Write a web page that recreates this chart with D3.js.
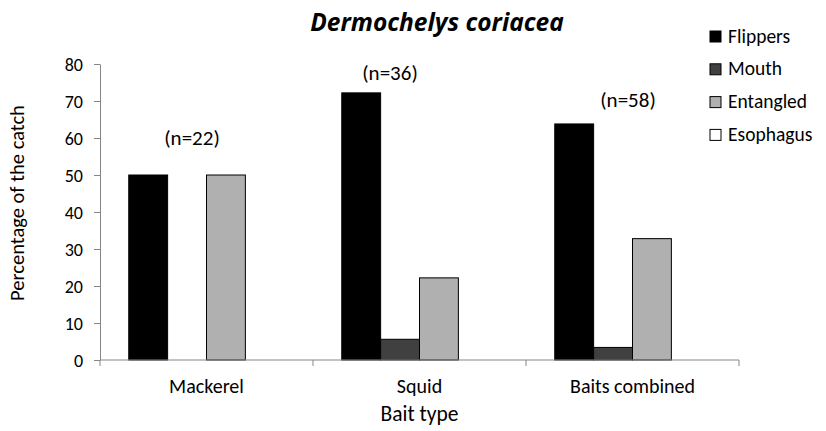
<!DOCTYPE html>
<html>
<head>
<meta charset="utf-8">
<script src="https://cdn.jsdelivr.net/npm/d3@7"></script>
<style>
  body { margin: 0; background: #fff; }
  svg text { font-family: Carlito, Lato, "Open Sans", sans-serif; fill: #000; }
  .axis path, .axis line { stroke: #868686; }
</style>
</head>
<body>
<svg id="chart" width="826" height="431"></svg>
<script>
// chart data
var baits   = ["Mackerel", "Squid", "Baits combined"];
var sites   = ["Flippers", "Mouth", "Entangled", "Esophagus"];
var counts  = ["(n=22)", "(n=36)", "(n=58)"];
var flippers  = [50, 72.2, 63.8];
var mouth     = [0, 5.6, 3.4];
var entangled = [50, 22.2, 32.8];
var esophagus = [0, 0, 0];
var yTicks = [0, 10, 20, 30, 40, 50, 60, 70, 80];
var colors = ["#000000", "#404040", "#b0b0b0", "#ffffff"];

var series = [flippers, mouth, entangled, esophagus];
var svg = d3.select("#chart");
var margin = { left: 100, right: 87, top: 64, bottom: 71 };
var width  = 826 - margin.left - margin.right;
var height = 431 - margin.top - margin.bottom;

var g = svg.append("g").attr("transform", "translate(" + margin.left + "," + margin.top + ")");

var x0 = d3.scaleBand().domain(baits).range([0, width]).paddingInner(0.27).paddingOuter(0.135);
var band = d3.scaleBand().domain(baits).range([0, width]);
var x1 = d3.scaleBand().domain(sites).range([0, x0.bandwidth()]);
var y  = d3.scaleLinear().domain([0, 80]).range([height, 0]);

// y axis
var yAxis = g.append("g").attr("class", "axis")
    .call(d3.axisLeft(y).tickValues(yTicks).tickSize(6).tickSizeOuter(0).tickPadding(11));
yAxis.selectAll("text").style("font-size", "18px").attr("dy", "0.34em");

// bars
var groups = g.selectAll("g.bait")
    .data(baits).enter().append("g")
    .attr("class", "bait")
    .attr("transform", function(d) { return "translate(" + x0(d) + ",0)"; });

groups.selectAll("rect")
    .data(function(d, i) { return sites.map(function(s, j) { return { site: s, v: series[j][i], j: j }; }); })
    .enter().append("rect")
    .filter(function(d) { return d.v > 0; })
    .attr("x", function(d) { return x1(d.site); })
    .attr("y", function(d) { return y(d.v); })
    .attr("width", x1.bandwidth())
    .attr("height", function(d) { return y(0) - y(d.v); })
    .attr("fill", function(d) { return colors[d.j]; })
    .attr("stroke", "#000")
    .attr("stroke-width", 1);

// x axis (drawn after bars)
var xAxisG = g.append("g").attr("class", "axis").attr("transform", "translate(0," + height + ")");
xAxisG.append("line").attr("x1", 0).attr("x2", width).attr("y1", 0).attr("y2", 0);
xAxisG.selectAll("line.tk")
    .data(baits.concat(["end"])).enter().append("line")
    .attr("class", "tk")
    .attr("x1", function(d, i) { return i * band.bandwidth(); })
    .attr("x2", function(d, i) { return i * band.bandwidth(); })
    .attr("y1", 0).attr("y2", 6);
xAxisG.selectAll("text")
    .data(baits).enter().append("text")
    .attr("x", function(d) { return band(d) + band.bandwidth() / 2; })
    .attr("y", 33)
    .attr("text-anchor", "middle")
    .style("font-size", "20px")
    .text(function(d) { return d; });

// sample size labels
var countX = [192, 390, 628];
var countY = [145, 80, 107];
svg.selectAll("text.count")
    .data(counts).enter().append("text")
    .attr("class", "count")
    .attr("x", function(d, i) { return countX[i]; })
    .attr("y", function(d, i) { return countY[i]; })
    .attr("text-anchor", "middle")
    .style("font-size", "21px")
    .text(function(d) { return d; });

// title
svg.append("text")
    .attr("x", 437).attr("y", 31)
    .attr("text-anchor", "middle")
    .style("font-family", "'Open Sans', sans-serif")
    .style("font-size", "24.5px").style("font-weight", "bold").style("font-style", "italic")
    .text("Dermochelys coriacea");

// axis titles
svg.append("text")
    .attr("transform", "translate(24,203) rotate(-90)")
    .attr("text-anchor", "middle")
    .style("font-size", "20.5px")
    .text("Percentage of the catch");
svg.append("text")
    .attr("x", margin.left + width / 2).attr("y", 421)
    .attr("text-anchor", "middle")
    .style("font-size", "21.5px")
    .text("Bait type");

// legend
var legend = svg.append("g").attr("transform", "translate(710,31)");
var items = legend.selectAll("g").data(sites).enter().append("g")
    .attr("transform", function(d, i) { return "translate(0," + i * 32.8 + ")"; });
items.append("rect")
    .attr("width", 11).attr("height", 11)
    .attr("fill", function(d, i) { return colors[i]; })
    .attr("stroke", "#000").attr("stroke-width", 1);
items.append("text")
    .attr("x", 18).attr("y", 11.5)
    .style("font-size", "19.5px")
    .text(function(d) { return d; });
</script>
</body>
</html>
